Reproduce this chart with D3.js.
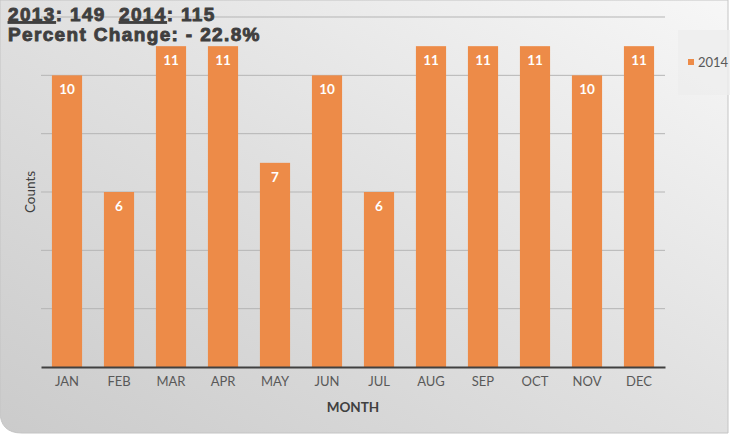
<!DOCTYPE html>
<html>
<head>
<meta charset="utf-8">
<script src="https://cdn.jsdelivr.net/npm/d3@7"></script>
<style>
  html, body { margin: 0; padding: 0; background: #fff; }
  svg { display: block; }
</style>
</head>
<body>
<div id="chart"></div>
<script>
const months = ['JAN', 'FEB', 'MAR', 'APR', 'MAY', 'JUN', 'JUL', 'AUG', 'SEP', 'OCT', 'NOV', 'DEC'];
const counts2014 = [10, 6, 11, 11, 7, 10, 6, 11, 11, 11, 10, 11];
const yTicks = [0, 2, 4, 6, 8, 10, 12];
const seriesName = '2014';

const W = 730, H = 436;
const margin = { top: 17, right: 65, bottom: 69, left: 41 };
const font = 'Lato, "Open Sans", Arial, sans-serif';

const svg = d3.select('#chart').append('svg')
  .attr('width', W).attr('height', H)
  .attr('font-family', font);

const defs = svg.append('defs');
const grad = defs.append('linearGradient').attr('id', 'bg')
  .attr('x1', '100%').attr('y1', '0%').attr('x2', '0%').attr('y2', '100%');
grad.append('stop').attr('offset', '0%').attr('stop-color', '#f7f7f7');
grad.append('stop').attr('offset', '50%').attr('stop-color', '#e0e0e0');
grad.append('stop').attr('offset', '100%').attr('stop-color', '#cbcbcb');

// background panel
svg.append('path')
  .attr('d', `M0,0 H${W - 2} V${H - 3} H22 Q0,${H - 3} 0,${H - 25} Z`)
  .attr('fill', 'url(#bg)')
  .attr('stroke', '#c4c4c4')
  .attr('stroke-width', 1);

const x = d3.scaleBand().domain(months).range([margin.left, W - margin.right]).paddingInner(0.42).paddingOuter(0.21);
const y = d3.scaleLinear().domain([0, 12]).range([H - margin.bottom, margin.top]);

// legend box
svg.append('rect').attr('x', 678).attr('y', 30).attr('width', 52).attr('height', 65)
  .attr('fill', '#ededed').attr('opacity', 0.8);

// gridlines
svg.append('g').selectAll('line').data(yTicks.filter(d => d > 0)).join('line')
  .attr('x1', margin.left).attr('x2', W - margin.right)
  .attr('y1', d => y(d)).attr('y2', d => y(d))
  .attr('stroke', '#b5b5b5').attr('stroke-width', 1);

// bars
svg.append('g').selectAll('rect').data(counts2014).join('rect')
  .attr('x', (d, i) => x(months[i]))
  .attr('width', x.bandwidth())
  .attr('y', d => y(d))
  .attr('height', d => y(0) - y(d))
  .attr('fill', '#ed8b48');

// value labels
svg.append('g').selectAll('text').data(counts2014).join('text')
  .attr('x', (d, i) => x(months[i]) + x.bandwidth() / 2)
  .attr('y', d => y(d) + 19)
  .attr('text-anchor', 'middle')
  .attr('fill', '#fff')
  .attr('font-weight', 'bold')
  .attr('font-size', 13.5)
  .text(d => d);

// x axis
const xAxis = svg.append('g')
  .attr('transform', `translate(0,${y(0)})`)
  .call(d3.axisBottom(x).tickSize(0).tickPadding(10));
xAxis.select('.domain').attr('stroke', '#404040').attr('stroke-width', 2);
xAxis.selectAll('text').attr('fill', '#595959').attr('font-size', 13)
  .attr('font-family', font);

// axis titles
svg.append('text').attr('x', (margin.left + W - margin.right) / 2).attr('y', 412)
  .attr('text-anchor', 'middle').attr('font-weight', 'bold').attr('font-size', 13.5)
  .attr('fill', '#404040').text('MONTH');

svg.append('text')
  .attr('transform', `translate(35,${(y(0) + y(12)) / 2}) rotate(-90)`)
  .attr('text-anchor', 'middle').attr('font-size', 13.5)
  .attr('fill', '#404040').text('Counts');

// legend
svg.append('rect').attr('x', 688).attr('y', 59).attr('width', 6).attr('height', 6).attr('fill', '#ed8b48');
svg.append('text').attr('x', 698).attr('y', 67).attr('font-size', 13).attr('fill', '#595959').text(seriesName);

// header text
const head = svg.append('g').attr('font-family', 'Arial, "Liberation Sans", sans-serif')
  .attr('font-weight', 'bold').attr('font-size', 19).attr('fill', '#3f3f3f')
  .attr('stroke', '#3f3f3f').attr('stroke-width', 0.9)
  .attr('letter-spacing', 1.35);
const l1 = head.append('text').attr('x', 8).attr('y', 20.5);
l1.append('tspan').attr('text-decoration', 'underline').text('2013');
l1.append('tspan').text(': 149\u00a0\u00a0');
l1.append('tspan').attr('text-decoration', 'underline').text('2014');
l1.append('tspan').text(': 115');
head.append('text').attr('x', 8).attr('y', 41).text('Percent Change: - 22.8%');
</script>
</body>
</html>
